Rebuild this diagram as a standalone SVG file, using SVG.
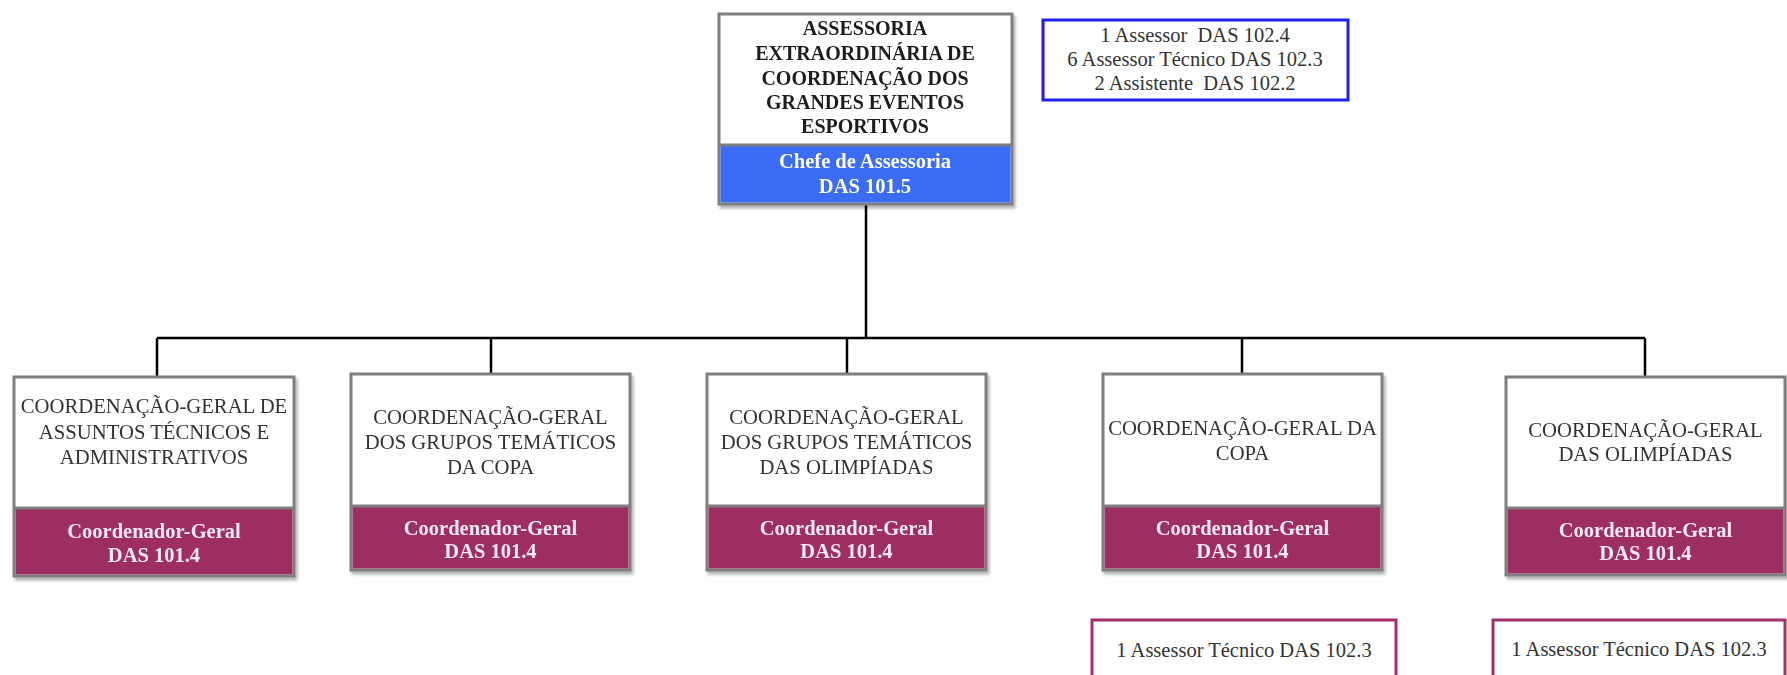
<svg xmlns="http://www.w3.org/2000/svg" width="1787" height="675" viewBox="0 0 1787 675">
<style>
  .box { fill:#ffffff; stroke:#7f7f7f; stroke-width:3; }
  .maroon { fill:#9c2d62; }
  .blue { fill:#3a6cf6; }
  .t { font-family:"Liberation Serif", "Times New Roman", serif; text-anchor:middle; white-space:pre; }
  .title { font-size:20px; font-weight:bold; fill:#1e1e1e; }
  .unit { font-size:20.7px; fill:#333333; }
  .role { font-size:20.5px; font-weight:bold; fill:#fbe9f1; }
  .roleb { font-size:20.5px; font-weight:bold; fill:#ffffff; }
  .info { font-size:20.5px; fill:#333333; }
  .conn { stroke:#000000; stroke-width:2.5; fill:none; }
</style>
<defs>
  <filter id="sh" x="-5%" y="-5%" width="115%" height="115%">
    <feDropShadow dx="2" dy="3" stdDeviation="1.5" flood-color="#000" flood-opacity="0.3"/>
  </filter>
</defs>
<rect width="1787" height="675" fill="#ffffff"/>

<g id="connectors">
  <path class="conn" d="M866,204 V338"/>
  <path class="conn" d="M157,338 H1645"/>
  <path class="conn" d="M157,338 V377"/>
  <path class="conn" d="M491,338 V374"/>
  <path class="conn" d="M847,338 V374"/>
  <path class="conn" d="M1242,338 V374"/>
  <path class="conn" d="M1645,338 V377"/>
</g>

<g id="top" filter="url(#sh)">
  <rect class="box" x="719" y="14" width="293" height="190"/>
  <rect class="blue" x="720.5" y="145" width="290" height="57.5"/>
  <line x1="719" y1="145" x2="1012" y2="145" stroke="#7f7f7f" stroke-width="3"/>
  <text class="t title" x="865" y="35">ASSESSORIA</text>
  <text class="t title" x="865" y="60">EXTRAORDINÁRIA DE</text>
  <text class="t title" x="865" y="85">COORDENAÇÃO DOS</text>
  <text class="t title" x="865" y="109">GRANDES EVENTOS</text>
  <text class="t title" x="865" y="133">ESPORTIVOS</text>
  <text class="t roleb" x="865" y="168">Chefe de Assessoria</text>
  <text class="t roleb" x="865" y="193">DAS 101.5</text>
</g>

<g id="info">
  <rect x="1043" y="20" width="305" height="80" fill="#ffffff" stroke="#1f1ff0" stroke-width="3"/>
  <text class="t info" x="1195" y="42">1 Assessor  DAS 102.4</text>
  <text class="t info" x="1195" y="66">6 Assessor Técnico DAS 102.3</text>
  <text class="t info" x="1195" y="90">2 Assistente  DAS 102.2</text>
</g>

<g id="cg1" filter="url(#sh)">
  <rect class="box" x="14" y="377" width="280" height="199"/>
  <rect class="maroon" x="15.5" y="509" width="277" height="65.5"/>
  <line x1="14" y1="508" x2="294" y2="508" stroke="#7f7f7f" stroke-width="3"/>
  <text class="t unit" x="154" y="413">COORDENAÇÃO-GERAL DE</text>
  <text class="t unit" x="154" y="439">ASSUNTOS TÉCNICOS E</text>
  <text class="t unit" x="154" y="464">ADMINISTRATIVOS</text>
  <text class="t role" x="154" y="538">Coordenador-Geral</text>
  <text class="t role" x="154" y="562">DAS 101.4</text>
</g>

<g id="cg2" filter="url(#sh)">
  <rect class="box" x="351" y="374" width="279" height="196"/>
  <rect class="maroon" x="352.5" y="507" width="276" height="61.5"/>
  <line x1="351" y1="506" x2="630" y2="506" stroke="#7f7f7f" stroke-width="3"/>
  <text class="t unit" x="490.5" y="424">COORDENAÇÃO-GERAL</text>
  <text class="t unit" x="490.5" y="449">DOS GRUPOS TEMÁTICOS</text>
  <text class="t unit" x="490.5" y="474">DA COPA</text>
  <text class="t role" x="490.5" y="535">Coordenador-Geral</text>
  <text class="t role" x="490.5" y="558">DAS 101.4</text>
</g>

<g id="cg3" filter="url(#sh)">
  <rect class="box" x="707" y="374" width="279" height="196"/>
  <rect class="maroon" x="708.5" y="507" width="276" height="61.5"/>
  <line x1="707" y1="506" x2="986" y2="506" stroke="#7f7f7f" stroke-width="3"/>
  <text class="t unit" x="846.5" y="424">COORDENAÇÃO-GERAL</text>
  <text class="t unit" x="846.5" y="449">DOS GRUPOS TEMÁTICOS</text>
  <text class="t unit" x="846.5" y="474">DAS OLIMPÍADAS</text>
  <text class="t role" x="846.5" y="535">Coordenador-Geral</text>
  <text class="t role" x="846.5" y="558">DAS 101.4</text>
</g>

<g id="cg4" filter="url(#sh)">
  <rect class="box" x="1103" y="374" width="279" height="196"/>
  <rect class="maroon" x="1104.5" y="507" width="276" height="61.5"/>
  <line x1="1103" y1="506" x2="1382" y2="506" stroke="#7f7f7f" stroke-width="3"/>
  <text class="t unit" x="1242.5" y="435">COORDENAÇÃO-GERAL DA</text>
  <text class="t unit" x="1242.5" y="460">COPA</text>
  <text class="t role" x="1242.5" y="535">Coordenador-Geral</text>
  <text class="t role" x="1242.5" y="558">DAS 101.4</text>
</g>

<g id="cg5" filter="url(#sh)">
  <rect class="box" x="1506" y="377" width="279" height="198"/>
  <rect class="maroon" x="1507.5" y="509" width="276" height="64.5"/>
  <line x1="1506" y1="508" x2="1785" y2="508" stroke="#7f7f7f" stroke-width="3"/>
  <text class="t unit" x="1645.5" y="437">COORDENAÇÃO-GERAL</text>
  <text class="t unit" x="1645.5" y="461">DAS OLIMPÍADAS</text>
  <text class="t role" x="1645.5" y="537">Coordenador-Geral</text>
  <text class="t role" x="1645.5" y="560">DAS 101.4</text>
</g>

<g id="adv4">
  <rect x="1092" y="620" width="304" height="80" fill="#ffffff" stroke="#a3306b" stroke-width="3"/>
  <text class="t info" x="1244" y="657">1 Assessor Técnico DAS 102.3</text>
</g>

<g id="adv5">
  <rect x="1493" y="620" width="292" height="80" fill="#ffffff" stroke="#a3306b" stroke-width="3"/>
  <text class="t info" x="1639" y="656">1 Assessor Técnico DAS 102.3</text>
</g>
</svg>
